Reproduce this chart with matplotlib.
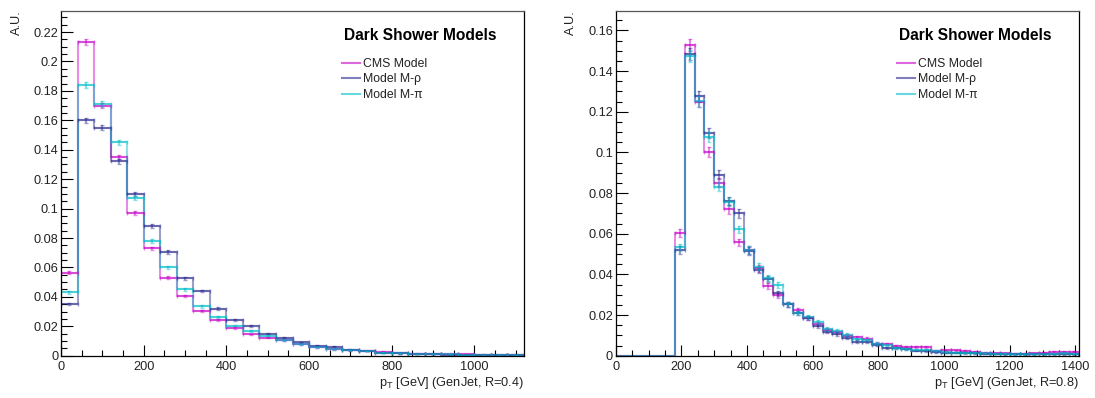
import numpy as np
import matplotlib
matplotlib.use("Agg")
import matplotlib.pyplot as plt
from matplotlib.ticker import MultipleLocator, FuncFormatter
from matplotlib.lines import Line2D

plt.rcParams['font.family'] = ['Liberation Sans', 'DejaVu Sans']
plt.rcParams['mathtext.fontset'] = 'custom'
plt.rcParams['mathtext.rm'] = 'Liberation Sans'
plt.rcParams['mathtext.it'] = 'Liberation Sans:italic'

# ---------------- data ----------------
SERIES = ["CMS Model", "Model M-\u03c1", "Model M-\u03c0"]
COLORS = ["#c800c8", "#28288c", "#00bec8"]

# R=0.4 : 28 bins of 40 GeV from 0 to 1120
EDGES_R04 = np.arange(0, 1121, 40)
CMS_R04 = [0.0565, 0.213, 0.170, 0.135, 0.097, 0.073, 0.053, 0.0405, 0.0305, 0.0243,
           0.019, 0.0145, 0.0122, 0.0104, 0.0079, 0.0057, 0.0045, 0.0038, 0.0032, 0.0027,
           0.0016, 0.0014, 0.0012, 0.0010, 0.0009, 0.0008, 0.0006, 0.0005]
MRHO_R04 = [0.035, 0.160, 0.155, 0.132, 0.110, 0.088, 0.0705, 0.0525, 0.044, 0.032,
            0.024, 0.020, 0.015, 0.0122, 0.009, 0.0068, 0.0061, 0.0040, 0.0032, 0.0018,
            0.0015, 0.0012, 0.0010, 0.0008, 0.0006, 0.0005, 0.0004, 0.0003]
MPI_R04 = [0.043, 0.184, 0.171, 0.145, 0.107, 0.078, 0.060, 0.045, 0.0335, 0.026,
           0.0205, 0.0167, 0.0136, 0.0104, 0.0079, 0.0057, 0.0045, 0.0038, 0.0032, 0.0020,
           0.0016, 0.0013, 0.0011, 0.0009, 0.0007, 0.0005, 0.0004, 0.0003]

# R=0.8 : 47 bins of 30 GeV from 0 to 1410
EDGES_R08 = np.arange(0, 1411, 30)
CMS_R08 = [0, 0, 0, 0, 0, 0,
           0.0605, 0.153, 0.125, 0.1003, 0.085, 0.072, 0.0557, 0.052, 0.043, 0.0343,
           0.0297, 0.0254, 0.0225, 0.0187, 0.0156, 0.0126, 0.0115, 0.0097, 0.0090, 0.0084,
           0.0060, 0.0057, 0.0049, 0.0043, 0.0043, 0.0043, 0.0023, 0.0026, 0.0026, 0.0023,
           0.0018, 0.0015, 0.0012, 0.0012, 0.0010, 0.0010, 0.0012, 0.0015, 0.0018, 0.0020,
           0.0020]
MRHO_R08 = [0, 0, 0, 0, 0, 0,
            0.052, 0.1483, 0.1276, 0.1096, 0.0891, 0.0761, 0.070, 0.0515, 0.0421, 0.0379,
            0.0307, 0.0254, 0.0211, 0.0185, 0.0148, 0.0118, 0.0107, 0.0089, 0.0069, 0.0067,
            0.0052, 0.0040, 0.0036, 0.0033, 0.0025, 0.0022, 0.0017, 0.0015, 0.0014, 0.0013,
            0.0012, 0.0010, 0.0009, 0.0008, 0.0008, 0.0007, 0.0006, 0.0006, 0.0008, 0.0007,
            0.0006]
MPI_R08 = [0, 0, 0, 0, 0, 0,
           0.0533, 0.1475, 0.1252, 0.1076, 0.0831, 0.0757, 0.0621, 0.052, 0.0438, 0.0384,
           0.0348, 0.0254, 0.0211, 0.0190, 0.0164, 0.0131, 0.0123, 0.0102, 0.0082, 0.0077,
           0.0060, 0.0052, 0.0040, 0.0033, 0.0030, 0.0030, 0.0023, 0.0016, 0.0015, 0.0015,
           0.0013, 0.0012, 0.0010, 0.0009, 0.0008, 0.0008, 0.0007, 0.0008, 0.0010, 0.0012,
           0.0010]

# estimated effective event counts (set the size of the statistical error bars)
N_EVENTS_R04 = 53000
N_EVENTS_R08 = 17000

TITLE = "Dark Shower Models"
YLABEL = "A.U."
XLABEL_R04 = r"p$_{\mathrm{T}}$ [GeV] (GenJet, R=0.4)"
XLABEL_R08 = r"p$_{\mathrm{T}}$ [GeV] (GenJet, R=0.8)"

# ---------------- figure ----------------
W, H = 1095, 398
fig = plt.figure(figsize=(W / 100, H / 100), dpi=100)


def px_axes(x0, y0, x1, y1):
    return fig.add_axes([x0 / W, 1 - y1 / H, (x1 - x0) / W, (y1 - y0) / H])


def fmt(v, pos):
    return "%g" % round(v, 6)


def draw_panel(ax, edges, series, nev, xlabel, ymax, ylabel_x, title_x, leg_x):
    edges = np.asarray(edges, dtype=float)
    centers = 0.5 * (edges[1:] + edges[:-1])
    halfw = 0.5 * (edges[1:] - edges[:-1])
    for vals, col in zip(series, COLORS):
        v = np.asarray(vals, dtype=float)
        ax.stairs(v, edges, color=col, alpha=0.45, lw=1.5)
        m = v > 0
        err = np.sqrt(v[m] / nev)
        ax.errorbar(centers[m], v[m], yerr=err, xerr=halfw[m], fmt='none',
                    ecolor=col, alpha=0.45, elinewidth=1.5, capsize=1.5,
                    capthick=1.0)
    ax.set_xlim(edges[0], edges[-1])
    ax.set_ylim(0, ymax)
    ax.xaxis.set_major_locator(MultipleLocator(200))
    ax.xaxis.set_minor_locator(MultipleLocator(50))
    ax.yaxis.set_major_locator(MultipleLocator(0.02))
    ax.yaxis.set_minor_locator(MultipleLocator(0.005))
    ax.xaxis.set_major_formatter(FuncFormatter(fmt))
    ax.yaxis.set_major_formatter(FuncFormatter(fmt))
    ax.tick_params(axis='both', which='both', direction='in', top=False, right=False,
                   labelsize=9.2, width=0.8, colors='black', labelcolor='#222222')
    ax.tick_params(axis='y', which='major', length=8.6, pad=2)
    ax.tick_params(axis='y', which='minor', length=4.3)
    ax.tick_params(axis='x', which='major', length=7.9, pad=3.5)
    ax.tick_params(axis='x', which='minor', length=4.0)
    for s in ax.spines.values():
        s.set_linewidth(0.9)
        s.set_color('black')
    ax.spines['top'].set_color('#555555')
    # axis titles
    bb = ax.get_position()
    fig.text(bb.x1, 1 - 383 / H, xlabel, ha='right', va='center', fontsize=9.2,
             color='#222222')
    fig.text(ylabel_x / W, bb.y1, YLABEL, rotation=90, ha='center', va='top',
             fontsize=9.2, color='#222222')
    # title and legend
    fig.text(title_x / W, 1 - 39.5 / H, TITLE, ha='left', va='baseline',
             fontsize=11.2, fontweight='bold')
    handles = [Line2D([], [], color=c, alpha=0.6, lw=1.5) for c in COLORS]
    fig.legend(handles, SERIES, loc='upper left',
               bbox_to_anchor=(leg_x / W, 1 - 58 / H), frameon=False, fontsize=8.8,
               handlelength=1.5, handletextpad=0.2, labelspacing=0.28,
               borderpad=0, borderaxespad=0, labelcolor='#222222')


ax1 = px_axes(61, 10.7, 524, 355.7)
draw_panel(ax1, EDGES_R04, [CMS_R04, MRHO_R04, MPI_R04], N_EVENTS_R04, XLABEL_R04,
           0.2345, 17, 344, 342)

ax2 = px_axes(615.7, 10.7, 1078.7, 355.7)
draw_panel(ax2, EDGES_R08, [CMS_R08, MRHO_R08, MPI_R08], N_EVENTS_R08, XLABEL_R08,
           0.1697, 571, 899, 897)

fig.savefig("out.png", dpi=100)
